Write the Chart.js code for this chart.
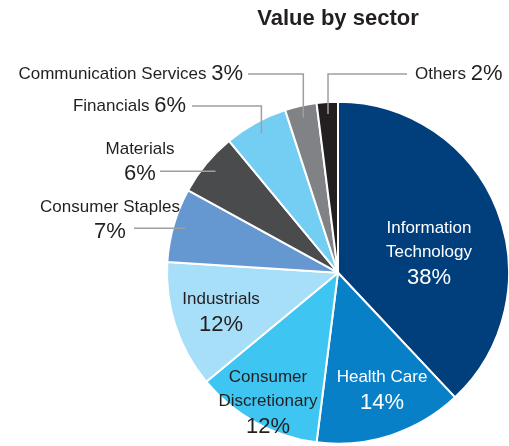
<!DOCTYPE html>
<html>
<head>
<meta charset="utf-8">
<script src="https://cdn.jsdelivr.net/npm/chart.js@4.4.0/dist/chart.umd.min.js"></script>
<style>
  html, body { margin: 0; padding: 0; background: #fff; }
  #wrap { width: 509px; height: 446px; position: relative; }
</style>
</head>
<body>
<div id="wrap"><canvas id="sector_chart"></canvas></div>
<script>
// data
var sectors = ['Information Technology', 'Health Care', 'Consumer Discretionary', 'Industrials',
               'Consumer Staples', 'Materials', 'Financials', 'Communication Services', 'Others'];
var values = [38, 14, 12, 12, 7, 6, 6, 3, 2];
var sectorColors = ['#003e7c', '#0880c8', '#3fc5f1', '#a7def8', '#6598d0',
                    '#4a4b4d', '#74cef4', '#808285', '#231f20'];
// how each name is broken into lines
var nameLines = [['Information', 'Technology'], ['Health Care'], ['Consumer', 'Discretionary'], ['Industrials'],
                 ['Consumer Staples'], ['Materials'], ['Financials'], ['Communication Services'], ['Others']];

var FONT = "'Liberation Sans', Arial, Helvetica, sans-serif";
var DARK = '#231f20';
var NAME_SIZE = 17;
var PCT_SIZE = 22;

// label placement (inside = relative to pie centre, outside = canvas coords)
var labelLayout = [
    {mode: 'inside', dx: 91, dy: -44, color: '#fff'},
    {mode: 'inside', dx: 44, dy: 105, color: '#fff'},
    {mode: 'inside', dx: -70, dy: 105, color: DARK},
    {mode: 'inside', dx: -117, dy: 27, color: DARK},
    {mode: 'stack', x: 110, y: 207, lineFrom: 134},
    {mode: 'stack', x: 140, y: 149, lineFrom: 160},
    {mode: 'inline', x: 186, y: 106, align: 'right', lineFrom: 192},
    {mode: 'inline', x: 243, y: 74, align: 'right', lineFrom: 248},
    {mode: 'inline', x: 415, y: 74, align: 'left', lineFrom: 407}
];

var sectorLabels = {
    id: 'sectorLabels',
    afterDatasetsDraw: function(chart) {
        var ctx = chart.ctx;
        var arcs = chart.getDatasetMeta(0).data;
        var total = values.reduce(function(a, b) { return a + b; }, 0);
        ctx.save();
        ctx.textBaseline = 'middle';
        for (var i = 0; i < arcs.length; i++) {
            var arc = arcs[i];
            var lay = labelLayout[i];
            var pct = Math.round(values[i] / total * 100) + '%';
            var mid = (arc.startAngle + arc.endAngle) / 2;
            var ax = arc.x + Math.cos(mid) * arc.outerRadius * 0.93;
            var ay = arc.y + Math.sin(mid) * arc.outerRadius * 0.93;

            if (lay.mode === 'inside' || lay.mode === 'stack') {
                var cx = lay.mode === 'inside' ? arc.x + lay.dx : lay.x;
                var cy = lay.mode === 'inside' ? arc.y + lay.dy : lay.y;
                ctx.textAlign = 'center';
                ctx.fillStyle = lay.color || DARK;
                ctx.font = NAME_SIZE + 'px ' + FONT;
                for (var k = 0; k < nameLines[i].length; k++) {
                    ctx.fillText(nameLines[i][k], cx, cy + k * 24);
                }
                ctx.font = PCT_SIZE + 'px ' + FONT;
                ctx.fillText(pct, cx, cy + nameLines[i].length * 24 + 1);
                if (lay.mode === 'stack') {
                    ctx.strokeStyle = '#9d9fa2';
                    ctx.lineWidth = 1.5;
                    ctx.beginPath();
                    ctx.moveTo(lay.lineFrom, ay);
                    ctx.lineTo(ax, ay);
                    ctx.stroke();
                }
            } else {
                ctx.fillStyle = DARK;
                ctx.font = NAME_SIZE + 'px ' + FONT;
                var name = nameLines[i][0] + ' ';
                var wName = ctx.measureText(name).width;
                ctx.font = PCT_SIZE + 'px ' + FONT;
                var wPct = ctx.measureText(pct).width;
                var left = lay.align === 'right' ? lay.x - wName - wPct : lay.x;
                ctx.textAlign = 'left';
                ctx.font = NAME_SIZE + 'px ' + FONT;
                ctx.fillText(name, left, lay.y);
                ctx.font = PCT_SIZE + 'px ' + FONT;
                ctx.fillText(pct, left + wName, lay.y);
                ctx.strokeStyle = '#9d9fa2';
                ctx.lineWidth = 1.5;
                ctx.beginPath();
                ctx.moveTo(lay.lineFrom, lay.y);
                ctx.lineTo(ax, lay.y);
                ctx.lineTo(ax, ay);
                ctx.stroke();
            }
        }
        ctx.restore();
    }
};

var chart_sectors = document.getElementById('sector_chart');

let chartSectors = new Chart(chart_sectors, {
    type: 'pie',
    data: {
        labels: sectors,
        datasets: [{
            data: values,
            backgroundColor: sectorColors,
            borderColor: '#ffffff',
            borderWidth: 2,
            radius: 171
        }]
    },
    options: {
        responsive: true,
        maintainAspectRatio: false,
        animation: false,
        layout: {
            padding: {left: 167, right: 0, top: 0, bottom: 2}
        },
        plugins: {
            legend: {display: false},
            tooltip: {enabled: false},
            title: {
                display: true,
                fullSize: false,
                text: 'Value by sector',
                color: DARK,
                font: {family: FONT, size: 22, weight: 'bold', lineHeight: 1.2},
                padding: {top: 6, bottom: 69}
            }
        }
    },
    plugins: [sectorLabels]
});
</script>
</body>
</html>
